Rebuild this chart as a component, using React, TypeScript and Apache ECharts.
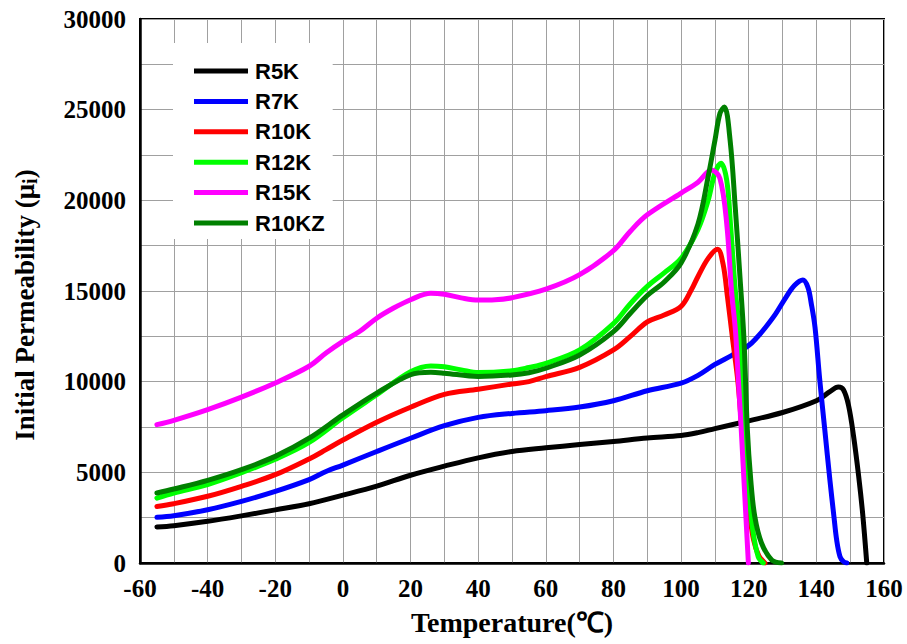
import React, { useEffect, useRef } from "react";
import * as echarts from "echarts";

const seriesNames = ["R5K", "R7K", "R10K", "R12K", "R15K", "R10KZ"];
const seriesColors = ["#000000", "#0000ff", "#ff0000", "#00ff00", "#ff00ff", "#008000"];

const xTicks = { min: -60, max: 160, interval: 20 };
const yTicks = { min: 0, max: 30000, interval: 5000 };

const r5k: [number, number][] = [
  [-55, 1990], [-50, 2060], [-40, 2300], [-30, 2600], [-20, 2930], [-10, 3270], [0, 3740],
  [10, 4240], [20, 4840], [30, 5340], [40, 5800], [50, 6150], [60, 6350], [70, 6530],
  [80, 6700], [90, 6890], [100, 7030], [105, 7190], [110, 7410], [120, 7840], [130, 8300],
  [140, 8950], [144, 9450], [146.5, 9700], [148, 9550], [149.5, 8700], [151, 7000],
  [152.5, 4800], [153.7, 2700], [154.9, 0],
];
const r7k: [number, number][] = [
  [-55, 2520], [-50, 2610], [-40, 2940], [-30, 3400], [-20, 3950], [-10, 4600], [-5, 5050],
  [0, 5400], [10, 6150], [20, 6880], [30, 7570], [40, 8030], [50, 8250], [60, 8400],
  [70, 8600], [80, 8950], [90, 9500], [100, 9920], [105, 10350], [110, 10950], [115, 11450],
  [120, 12000], [122.5, 12450], [125, 13000], [128, 13750], [131, 14650], [133.5, 15300],
  [136, 15600], [137.5, 15200], [138.5, 14300], [139.6, 13000], [141, 10100], [142.5, 7330],
  [144, 4580], [145.2, 2550], [146, 1270], [147, 350], [148, 80], [149, 0],
];
const r10k: [number, number][] = [
  [-55, 3120], [-50, 3270], [-40, 3680], [-30, 4230], [-20, 4870], [-10, 5740], [-5, 6250],
  [0, 6780], [10, 7760], [20, 8590], [30, 9300], [40, 9580], [50, 9870], [55, 10000],
  [60, 10280], [70, 10790], [80, 11750], [85, 12500], [90, 13300], [95, 13680], [100, 14150],
  [103, 15050], [105, 15800], [108, 16800], [110.8, 17300], [112.4, 16500], [113.7, 14700],
  [115.2, 12400], [116.8, 10000], [118, 7300], [119.3, 4500], [120.3, 2700], [121.4, 1300],
  [123, 400], [124.8, 0],
];
const r12k: [number, number][] = [
  [-55, 3580], [-50, 3860], [-40, 4330], [-30, 4980], [-20, 5720], [-10, 6650], [0, 8010],
  [10, 9280], [20, 10550], [26, 10870], [30, 10820], [35, 10650], [40, 10500], [50, 10600],
  [55, 10780], [60, 11010], [70, 11750], [80, 13200], [85, 14300], [90, 15250], [95, 16000],
  [100, 16800], [105, 18400], [108, 20000], [110, 21500], [111.8, 22050], [113.5, 21100],
  [114.6, 18700], [116, 15100], [117.2, 12850], [118.9, 7330], [120.2, 3660], [121.2, 1820],
  [122.8, 350], [124.3, 0],
];
const r15k: [number, number][] = [
  [-55, 7630], [-50, 7870], [-40, 8460], [-30, 9150], [-20, 9930], [-10, 10850], [-5, 11580],
  [0, 12220], [5, 12780], [10, 13500], [15, 14060], [20, 14520], [26, 14880], [30, 14820],
  [35, 14620], [40, 14500], [45, 14520], [50, 14630], [60, 15100], [70, 15900], [80, 17230],
  [85, 18300], [90, 19200], [100, 20400], [105, 21000], [109, 21670], [111.5, 21200],
  [113.5, 18700], [114.9, 15050], [116.2, 12500], [119.9, 0],
];
const r10kz: [number, number][] = [
  [-55, 3860], [-50, 4080], [-40, 4560], [-30, 5150], [-20, 5880], [-10, 6880], [0, 8170],
  [10, 9370], [20, 10380], [26, 10520], [30, 10470], [40, 10290], [50, 10370], [55, 10490],
  [60, 10740], [70, 11470], [80, 12760], [85, 13770], [90, 14750], [95, 15500], [100, 16550],
  [105, 18700], [108, 21300], [110, 23300], [111.5, 24800], [112.8, 25150], [114.5, 23300],
  [116, 19650], [117.4, 15800], [118.6, 12300], [119.6, 7330], [120.6, 4580], [121.8, 2550],
  [123.8, 1090], [126.8, 170], [129.7, 0],
];

const allData = [r5k, r7k, r10k, r12k, r15k, r10kz];

const serif = '"Times New Roman", "Liberation Serif", serif';
const sans = 'Arial, "Liberation Sans", sans-serif';

export default function App() {
  const ref = useRef<HTMLDivElement>(null);
  useEffect(() => {
    if (!ref.current) return;
    const chart = echarts.init(ref.current, undefined, { renderer: "svg" });
    const gridLine = { show: true, lineStyle: { color: "#a0a0a0", width: 1 } };
    chart.setOption({
      animation: false,
      backgroundColor: "#fff",
      grid: {
        left: 140,
        right: 23,
        top: 19,
        bottom: 81,
        show: true,
        borderColor: "#000",
        borderWidth: 2,
        containLabel: false,
      },
      legend: {
        data: seriesNames,
        orient: "vertical",
        left: 173,
        top: 43,
        backgroundColor: "#fff",
        padding: [16, 8, 4, 21],
        itemWidth: 54,
        itemHeight: 5,
        itemGap: 6.4,
        icon: "rect",
        selectedMode: false,
        textStyle: {
          fontFamily: sans,
          fontWeight: "bold",
          fontSize: 22,
          lineHeight: 24,
          color: "#000",
          padding: [0, 0, 0, 2],
        },
      },
      xAxis: {
        type: "value",
        min: xTicks.min,
        max: xTicks.max,
        interval: xTicks.interval,
        name: "Temperature(℃)",
        nameLocation: "middle",
        nameGap: 45,
        nameTextStyle: { fontFamily: serif, fontWeight: "bold", fontSize: 28, color: "#000" },
        axisLine: { show: true, onZero: false, lineStyle: { color: "#000", width: 2.5 } },
        axisTick: { show: false },
        minorTick: { show: false, splitNumber: 2 },
        axisLabel: { fontFamily: serif, fontWeight: "bold", fontSize: 25, color: "#000", margin: 13 },
        splitLine: gridLine,
        minorSplitLine: gridLine,
      },
      yAxis: {
        type: "value",
        min: yTicks.min,
        max: yTicks.max,
        interval: yTicks.interval,
        name: "{a|Initial Permeability (μ}{b|i}{a|)}",
        nameLocation: "middle",
        nameGap: 100,
        nameTextStyle: {
          padding: [0, 28, 0, 0],
          rich: {
            a: { fontFamily: serif, fontWeight: "bold", fontSize: 27, color: "#000" },
            b: { fontFamily: serif, fontWeight: "bold", fontSize: 20, color: "#000", verticalAlign: "bottom", padding: [10, 0, 0, 0] },
          },
        },
        axisLine: { show: true, onZero: false, lineStyle: { color: "#000", width: 2.5 } },
        axisTick: { show: false },
        minorTick: { show: false, splitNumber: 2 },
        axisLabel: {
          fontFamily: serif,
          fontWeight: "bold",
          fontSize: 25,
          color: "#000",
          margin: 14,
          formatter: (v: number) => String(v),
        },
        splitLine: gridLine,
        minorSplitLine: gridLine,
      },
      series: seriesNames.map((name, i) => ({
        name,
        type: "line",
        data: allData[i],
        symbol: "none",
        showSymbol: false,
        smooth: 0.35,
        color: seriesColors[i],
        lineStyle: { color: seriesColors[i], width: 5, join: "round", cap: "round" },
      })),
    });
    return () => chart.dispose();
  }, []);
  return (
    <div
      ref={ref}
      style={{ position: "fixed", left: 0, top: 0, width: 907, height: 644, background: "#fff" }}
    />
  );
}
